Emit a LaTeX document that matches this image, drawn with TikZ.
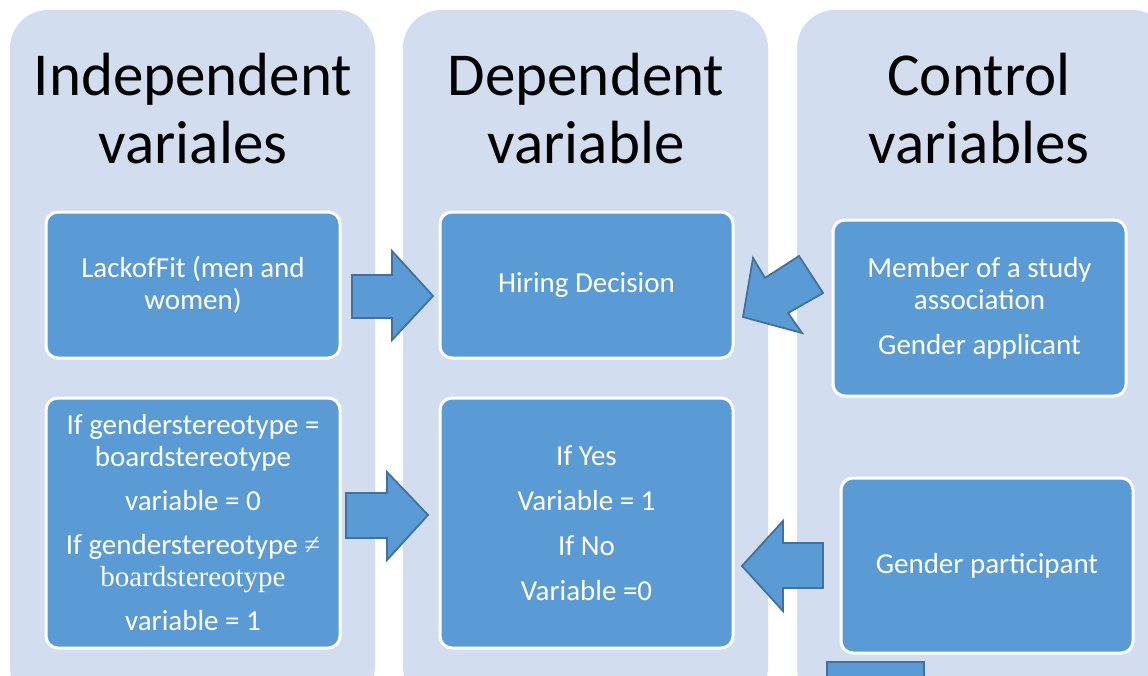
\documentclass[tikz,border=0pt]{standalone}
\usepackage{fontspec}
\setmainfont{Carlito}
\newfontfamily\serifmath{Liberation Serif}
\definecolor{colbg}{RGB}{210,222,239}
\definecolor{boxfill}{RGB}{91,155,213}
\definecolor{arrowline}{RGB}{65,113,156}
\begin{document}
\begin{tikzpicture}[x=1pt,y=-1pt,
  column/.style={fill=colbg, rounded corners=38pt},
  vbox/.style={draw=white, line width=3pt, fill=boxfill, rounded corners=12pt, text=white,
    font=\fontsize{29}{32}\selectfont, align=center, inner sep=0pt},
  title/.style={font=\fontsize{61}{68}\selectfont, align=center, text=black, inner sep=0pt},
  blockarrow/.style={fill=boxfill, draw=arrowline, line width=1.8pt, line join=miter}]
\clip (0,0) rectangle (1148,675);
\fill[white] (0,0) rectangle (1148,675);
% columns
\path[column] (10,10) rectangle (375,705);
\path[column] (403,10) rectangle (768,705);
\path[column] (797,10) rectangle (1170,705);
% titles
\node[title] (t1) at (193,109) {Independent\\variales};
\node[title] (t2) at (586,109) {Dependent\\variable};
\node[title] (t3) at (979,109) {Control\\variables};
% boxes
\node[vbox, minimum width=294pt, minimum height=146pt] (ind1) at (193,285)
  {LackofFit (men and\\women)};
\node[vbox, minimum width=294pt, minimum height=250pt] (ind2) at (193,523)
  {If genderstereotype =\\boardstereotype\\[12pt]variable = 0\\[12pt]If genderstereotype {\serifmath ≠}\\{\serifmath boardstereotype}\\[12pt]variable = 1};
\node[vbox, minimum width=293pt, minimum height=146pt] (dep1) at (586.5,285)
  {Hiring Decision};
\node[vbox, minimum width=293pt, minimum height=250pt] (dep2) at (586.5,523)
  {If Yes\\[13pt]Variable = 1\\[13pt]If No\\[13pt]Variable =0};
\node[vbox, minimum width=293pt, minimum height=176pt] (ctl1) at (979.5,308)
  {Member of a study\\association\\[13pt]Gender applicant};
\node[vbox, minimum width=292pt, minimum height=175pt] (ctl2) at (987,565.5)
  {Gender participant};
% block arrows
\draw[blockarrow] (352,275) -- (392,275) -- (392,251) -- (433,296) -- (392,340) -- (392,318) -- (352,318) -- cycle;
\draw[blockarrow] (346,493) -- (387,493) -- (387,472) -- (428,515) -- (387,560) -- (387,538) -- (346,538) -- cycle;
\draw[blockarrow] (823,543) -- (783,543) -- (783,521) -- (742,566) -- (783,611) -- (783,588) -- (823,588) -- cycle;
\draw[blockarrow] (743,317) -- (753,258) -- (765,278) -- (799,256) -- (823,293) -- (788,313) -- (802,333) -- cycle;
\draw[blockarrow] (827,720) -- (827,662) -- (924,662) -- (924,720);
\end{tikzpicture}
\end{document}
